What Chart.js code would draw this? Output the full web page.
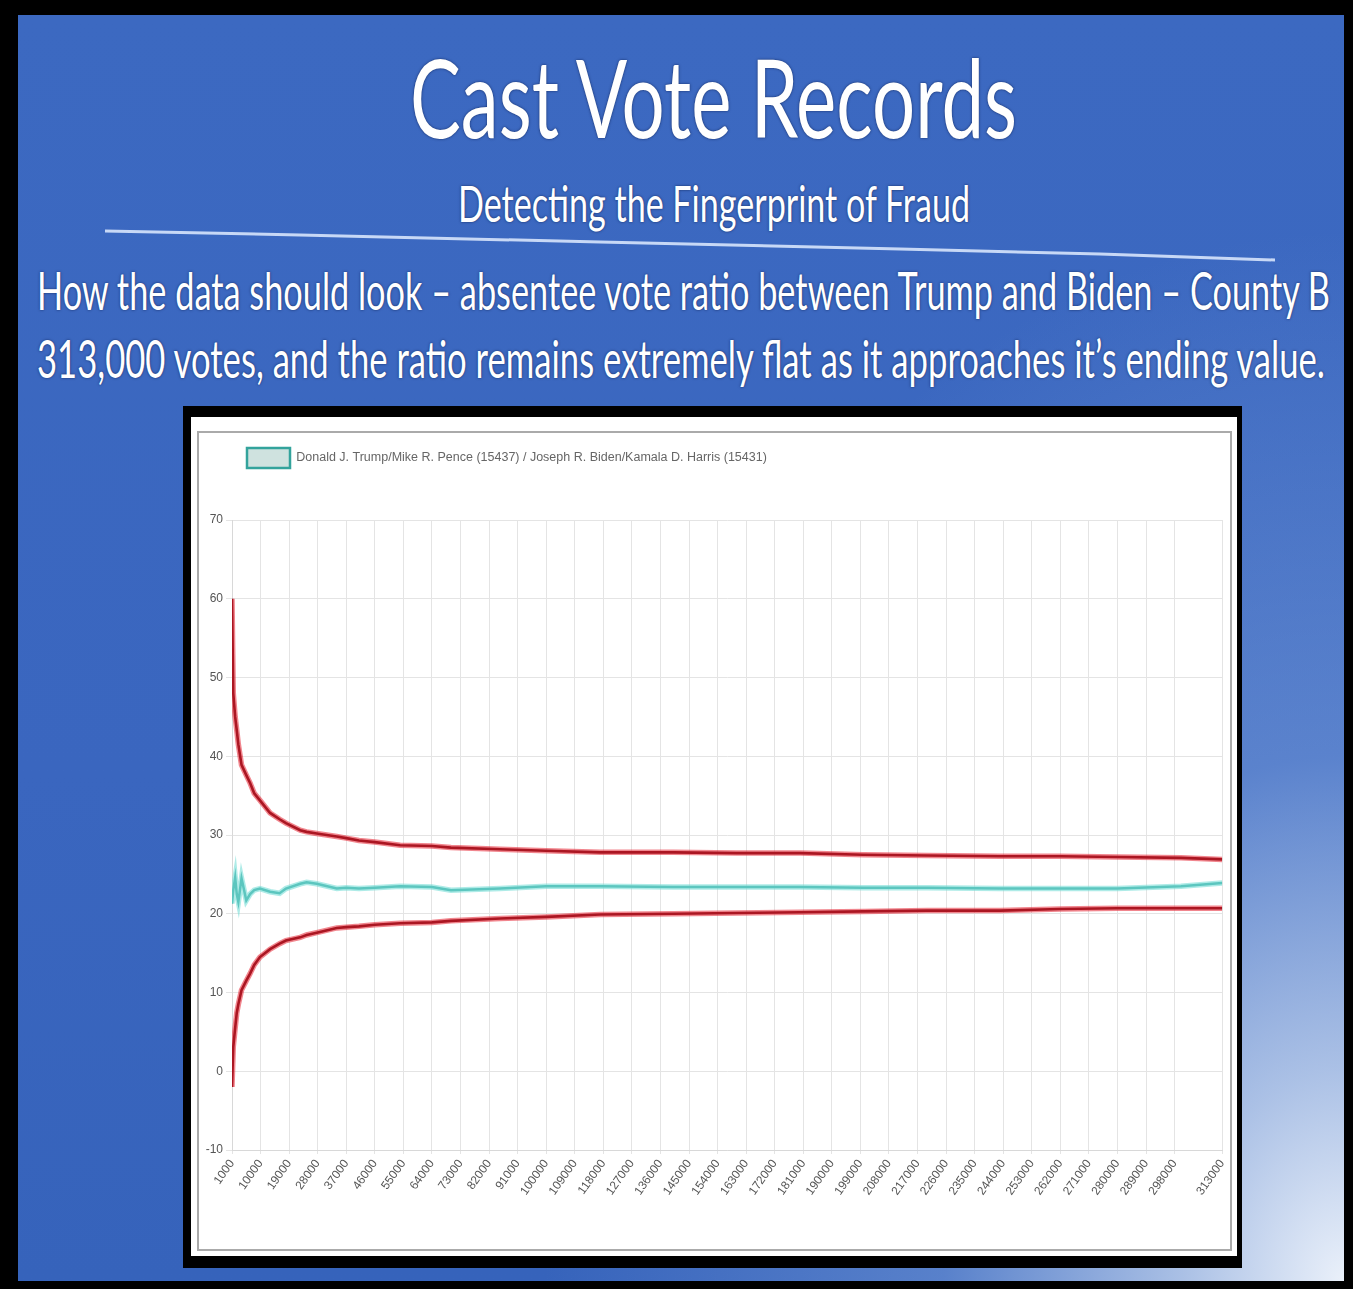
<!DOCTYPE html>
<html>
<head>
<meta charset="utf-8">
<script src="https://cdn.jsdelivr.net/npm/chart.js@4.4.1/dist/chart.umd.min.js"></script>
<style>
  html, body { margin: 0; padding: 0; background: #000; }
  body { width: 1353px; height: 1289px; position: relative; overflow: hidden; }
  #slide {
    position: absolute; left: 18px; top: 15px; width: 1326px; height: 1266px;
    background:
      radial-gradient(ellipse 800px 1050px at 100% 100%, rgba(240,245,252,0.97) 0%, rgba(200,216,240,0.8) 20%, rgba(130,165,222,0.45) 50%, rgba(70,110,195,0) 100%),
      linear-gradient(180deg, #3c69c1 0%, #3a66bf 60%, #3663bb 100%);
  }
  .txt {
    position: absolute; white-space: nowrap; color: #fff; font-family: Lato, "Open Sans", sans-serif;
    line-height: 1; transform-origin: 0 0; text-shadow: 0 0 3px rgba(10,25,70,0.8);
  }
  #frame { position: absolute; left: 183px; top: 406px; width: 1059px; height: 862px; background: #000; }
  #panel { position: absolute; left: 191px; top: 417px; width: 1046px; height: 839px; background: #fff; }
  #inner { position: absolute; left: 197px; top: 431px; width: 1031px; height: 816px; border: 2px solid #aaa; }
  #wrap { position: absolute; left: 195px; top: 396px; width: 1042px; height: 854px; }
</style>
</head>
<body>
<div id="slide"></div>
<svg width="1353" height="1289" style="position:absolute;left:0;top:0">
  <polyline points="105,231 300,235 600,242 900,249 1100,254 1275,260" fill="none"
    stroke="rgba(225,236,255,0.85)" stroke-width="3" />
</svg>
<div class="txt" data-w="607" style="left:410px;top:42px;font-size:108px">Cast Vote Records</div>
<div class="txt" data-w="512" style="left:458px;top:178px;font-size:50px">Detecting the Fingerprint of Fraud</div>
<div class="txt" data-w="1293" style="left:37px;top:264px;font-size:52px">How the data should look – absentee vote ratio between Trump and Biden – County B</div>
<div class="txt" data-w="1288" style="left:37px;top:332px;font-size:52px">313,000 votes, and the ratio remains extremely flat as it approaches it’s ending value.</div>
<div id="frame"></div>
<div id="panel"></div>
<div id="inner"></div>
<div id="wrap"><canvas id="chart"></canvas></div>
<script>
// fit slide text to the widths measured on the reference
document.querySelectorAll('.txt').forEach(el => {
  const w = el.getBoundingClientRect().width;
  el.style.transform = 'scaleX(' + (Number(el.dataset.w) / w) + ')';
});

const votes = [1000, 1400, 2000, 2500, 3000, 4000, 5500, 6700, 8000, 9800, 13000, 16000, 18000, 22500, 24500, 27700,
  34000, 37000, 41000, 46000, 54000, 64000, 70000, 85500, 100000, 117000, 140000, 160000, 180000, 200000,
  220000, 243000, 262000, 280000, 300000, 313000];
const ratio = [21.3, 23.0, 24.6, 22.5, 21.5, 24.5, 21.7, 22.5, 23.0, 23.2, 22.8, 22.6, 23.2, 23.8, 24.0, 23.8,
  23.2, 23.3, 23.2, 23.3, 23.5, 23.4, 23.0, 23.2, 23.5, 23.5, 23.4, 23.4, 23.4, 23.3,
  23.3, 23.2, 23.2, 23.2, 23.5, 23.9];
const upper = [60, 48, 45, 43.3, 41.5, 38.9, 37.6, 36.6, 35.3, 34.4, 32.8, 32.0, 31.5, 30.6, 30.4, 30.2,
  29.8, 29.6, 29.3, 29.1, 28.7, 28.6, 28.4, 28.2, 28.0, 27.8, 27.8, 27.7, 27.7, 27.5,
  27.4, 27.3, 27.3, 27.2, 27.1, 26.9];
const lower = [-2, 3.1, 5.5, 7.4, 8.5, 10.3, 11.5, 12.4, 13.5, 14.5, 15.5, 16.2, 16.6, 17.0, 17.3, 17.6,
  18.2, 18.3, 18.4, 18.6, 18.8, 18.9, 19.1, 19.4, 19.6, 19.9, 20.0, 20.1, 20.2, 20.3,
  20.4, 20.4, 20.6, 20.7, 20.7, 20.7];
const xTicks = [1000, 10000, 19000, 28000, 37000, 46000, 55000, 64000, 73000, 82000, 91000, 100000, 109000, 118000,
  127000, 136000, 145000, 154000, 163000, 172000, 181000, 190000, 199000, 208000, 217000, 226000, 235000,
  244000, 253000, 262000, 271000, 280000, 289000, 298000, 313000];
const seriesLabel = 'Donald J. Trump/Mike R. Pence (15437) / Joseph R. Biden/Kamala D. Harris (15431)';

const pts = arr => arr.map((y, i) => ({ x: votes[i], y: y }));
const line = (label, data, color, width, fill) => ({
  label: label, data: pts(data), borderColor: color, backgroundColor: fill || color,
  borderWidth: width, pointRadius: 0, tension: 0, fill: false
});

const narrow = '"Liberation Sans Narrow", "Liberation Sans", Arial, sans-serif';

new Chart(document.getElementById('chart'), {
  type: 'line',
  data: {
    datasets: [
      line('glow-upper', upper, 'rgba(230,35,50,0.55)', 5.5),
      line('glow-lower', lower, 'rgba(230,35,50,0.55)', 5.5),
      line('glow-ratio', ratio, 'rgba(120,222,215,0.6)', 5.5),
      line('upper', upper, '#650710', 2.6),
      line('lower', lower, '#650710', 2.6),
      line(seriesLabel, ratio, '#33a39c', 2.5, '#cfe2df')
    ]
  },
  options: {
    responsive: true,
    maintainAspectRatio: false,
    animation: false,
    layout: { padding: { left: 0, right: 0, top: 0, bottom: 0 } },
    plugins: {
      tooltip: { enabled: false },
      // empty title used as a spacer between legend and plot
      title: { display: true, text: [], weight: 500, padding: { top: 0, bottom: 42 } },
      legend: {
        position: 'top',
        align: 'start',
        labels: {
          filter: item => item.text === seriesLabel,
          boxWidth: 43, boxHeight: 20, padding: 52,
          color: '#666', font: { family: narrow, size: 12.5 }
        }
      }
    },
    scales: {
      x: {
        type: 'linear', min: 1000, max: 313000,
        afterBuildTicks: axis => { axis.ticks = xTicks.map(v => ({ value: v })); },
        afterFit: axis => { axis.height = 100; },
        grid: { color: '#e4e4e4', drawTicks: true, tickLength: 4 },
        border: { color: '#d8d8d8' },
        ticks: {
          autoSkip: false, minRotation: 55, maxRotation: 55,
          color: '#555', font: { family: narrow, size: 12 },
          callback: v => String(v)
        }
      },
      y: {
        min: -10, max: 70,
        afterFit: axis => { axis.width = 37; },
        grid: { color: '#e4e4e4', tickLength: 6 },
        border: { color: '#d8d8d8' },
        ticks: { stepSize: 10, color: '#555', font: { family: narrow, size: 12 } }
      }
    }
  }
});
</script>
</body>
</html>
